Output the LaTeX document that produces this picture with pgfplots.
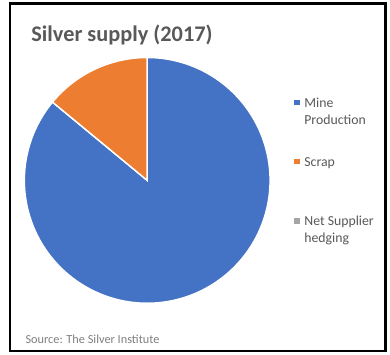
\documentclass[border=0pt]{standalone}
\usepackage{pgfplots}
\usepackage{pgfplotstable}
\pgfplotsset{compat=1.18}
\usepackage{fontspec}
\setmainfont{Carlito}
\definecolor{cMine}{HTML}{4472C4}
\definecolor{cScrap}{HTML}{ED7D31}
\definecolor{cHedge}{HTML}{A5A5A5}
\definecolor{txt}{HTML}{595959}
\definecolor{src}{HTML}{808080}
\pgfplotstableread{
label value
Mine 852.1
Scrap 138.8
Hedging 0
}\supply
\begin{document}
\pgfplotstablegetelem{0}{value}\of\supply \let\vA\pgfplotsretval
\pgfplotstablegetelem{1}{value}\of\supply \let\vB\pgfplotsretval
\pgfplotstablegetelem{2}{value}\of\supply \let\vC\pgfplotsretval
\pgfmathsetmacro\tot{\vA+\vB+\vC}
\pgfmathsetmacro\eA{90-\vA/\tot*360}
\pgfmathsetmacro\eB{\eA-\vB/\tot*360}
\begin{tikzpicture}
\path[use as bounding box] (0,0) rectangle (390bp,361bp);
\fill[white] (0,0) rectangle (390bp,361bp);
\draw[black, line width=2.5bp] (3.5bp,4bp) rectangle (385.5bp,357.5bp);
\begin{axis}[
  hide axis, scale only axis, width=250bp, height=250bp,
  xmin=-1, xmax=1, ymin=-1, ymax=1, clip=false,
  at={(143bp,177.5bp)}, anchor=center]
\addplot[fill=cMine, draw=white, line width=1.5bp, domain=\eA:90, samples=240, variable=\t]
  ({cos(\t)},{sin(\t)}) -- (axis cs:0,0) -- cycle;
\addplot[fill=cScrap, draw=white, line width=1.5bp, domain=\eB:\eA, samples=60, variable=\t]
  ({cos(\t)},{sin(\t)}) -- (axis cs:0,0) -- cycle;
\end{axis}
\node[anchor=base west, text=txt, inner sep=0pt, font=\fontsize{22.7bp}{27bp}\selectfont\bfseries] at (25bp,318.5bp) {Silver supply (2017)};
% legend
\fill[cMine] (292.7bp,253.7bp) rectangle (298.7bp,259.7bp);
\node[anchor=base west, text=txt, inner sep=0pt, font=\fontsize{14bp}{17.4bp}\selectfont] at (302.7bp,251.7bp) {Mine};
\node[anchor=base west, text=txt, inner sep=0pt, font=\fontsize{14bp}{17.4bp}\selectfont] at (302.7bp,234.3bp) {Production};
\fill[cScrap] (292.7bp,193.7bp) rectangle (298.7bp,199.7bp);
\node[anchor=base west, text=txt, inner sep=0pt, font=\fontsize{14bp}{17.4bp}\selectfont] at (302.7bp,192bp) {Scrap};
\fill[cHedge] (292.7bp,133bp) rectangle (298.7bp,139bp);
\node[anchor=base west, text=txt, inner sep=0pt, font=\fontsize{14bp}{17.4bp}\selectfont] at (302.7bp,132bp) {Net Supplier};
\node[anchor=base west, text=txt, inner sep=0pt, font=\fontsize{14bp}{17.4bp}\selectfont] at (302.7bp,114.3bp) {hedging};
\node[anchor=base west, text=src, inner sep=0pt, font=\fontsize{12.5bp}{15bp}\selectfont] at (19bp,12bp) {Source: The Silver Institute};
\end{tikzpicture}
\end{document}
